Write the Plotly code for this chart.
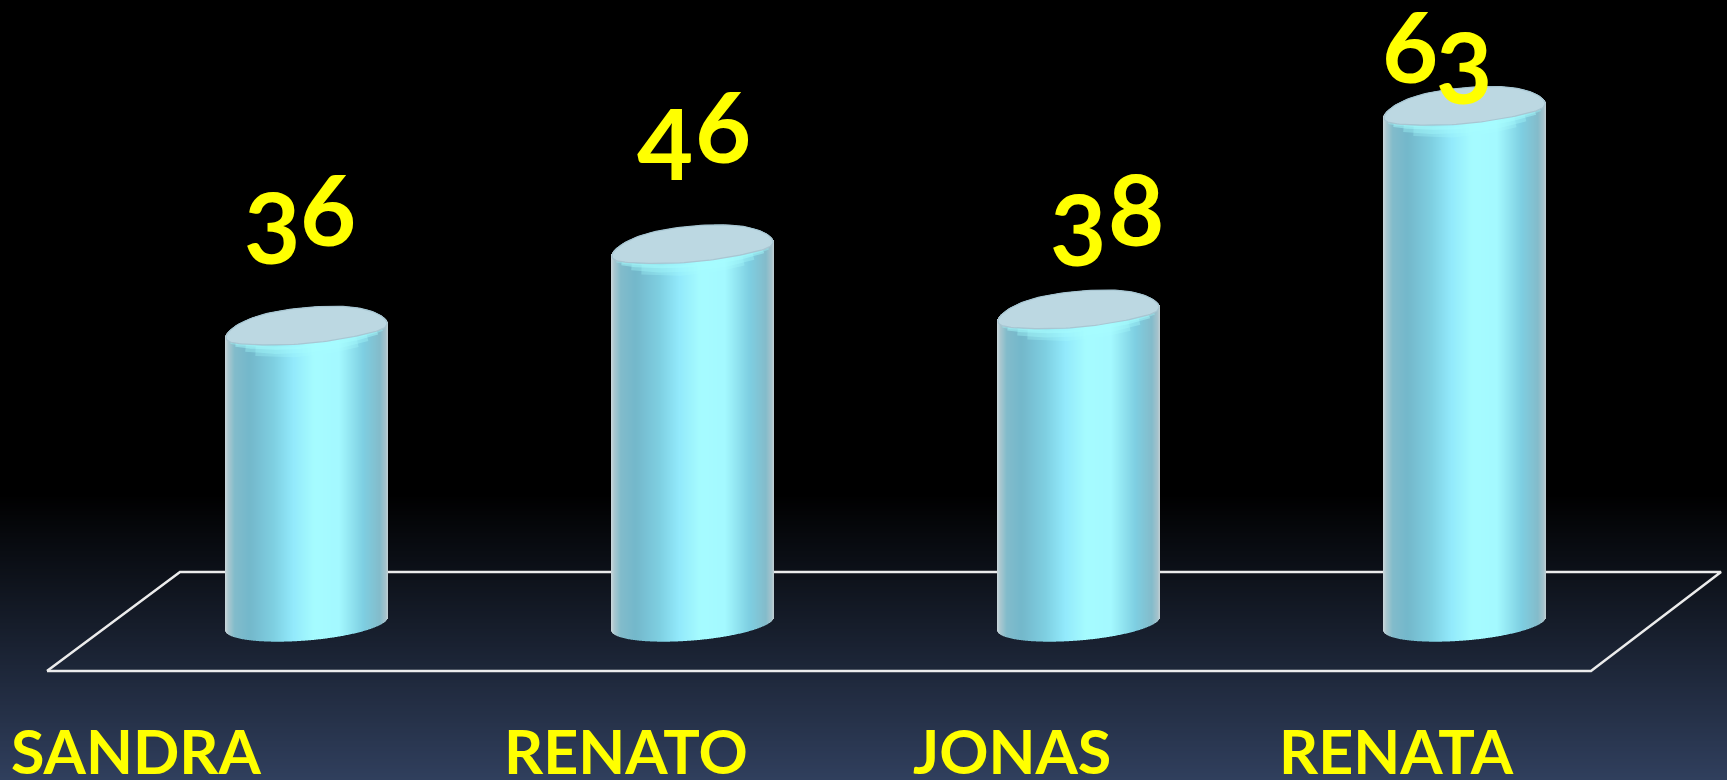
import numpy as np
import plotly.graph_objects as go

# ---- data ----
names = ["SANDRA", "RENATO", "JONAS", "RENATA"]
values = [36, 46, 38, 63]

# per-digit hand offsets of the tilted value labels (px, relative to the bar's top)
digit_dx = [[-34.5, 21.5], [-27.5, 30.5], [-0.5, 57.5], [-54.5, -0.5]]
digit_dy = [[104, 122], [107, 124], [86, 106], [65, 44]]
name_dx = [-170, -67, -67, -68.5]

# ---- picture scale ----
W, H = 1727, 780
PX_PER_UNIT = 8.14      # vertical pixels per value unit
BASE_PX = 623.5         # pixel row of value 0
FIRST_X = 306.5         # pixel column of first bar's axis
STEP_X = 386.0          # pixels between bars
HALF_W = 81.5           # bar half width in px

xr = [(0 - FIRST_X) / STEP_X, (W - FIRST_X) / STEP_X]
yr = [(BASE_PX - H) / PX_PER_UNIT, BASE_PX / PX_PER_UNIT]


def X(px):
    return float((px - FIRST_X) / STEP_X)


def Y(px):
    return (BASE_PX - np.asarray(px, float)) / PX_PER_UNIT


def d(px):
    return np.asarray(px, float) / PX_PER_UNIT


grad_pos = [0, .02, .06, .15, .3, .42, .55, .7, .85, .95, .985, 1]
grad_rgb = [(205, 216, 220), (170, 200, 208), (130, 188, 203), (116, 184, 203), (127, 208, 226), (147, 234, 252),
            (166, 252, 255), (164, 249, 255), (126, 207, 226), (132, 188, 203), (165, 195, 205), (195, 208, 212)]


def body_color(t):
    return "rgb(%d,%d,%d)" % tuple(np.interp(t, grad_pos, [c[k] for c in grad_rgb]) for k in range(3))


def cap_y(v, cu, cs):
    """value-space y of the cap rim: tilted, slightly squared ellipse"""
    return v + d(5) + d(7 * cu + 18 * cs - 5 * cu ** 4)


fig = go.Figure()

# background gradient
rows_px = np.arange(0, H + 2, 2)
z = np.clip((rows_px - 495) / (H - 495), 0, 1)
fig.add_trace(go.Heatmap(x=[xr[0], xr[1]], y=Y(rows_px), z=np.column_stack([z, z]),
                         colorscale=[[0, "#000000"], [1, "#303f5d"]], zmin=0, zmax=1,
                         showscale=False, hoverinfo="skip"))

# floor outline; the back edge stops at each cylinder, which stands in front of it
FLOOR_BACK, FLOOR_FRONT = 572, 671
fx = [X(47), X(180)]
fy = [float(Y(FLOOR_FRONT)), float(Y(FLOOR_BACK))]
for i in range(len(values)):
    fx += [i - HALF_W / STEP_X, None, i + HALF_W / STEP_X]
    fy += [float(Y(FLOOR_BACK)), None, float(Y(FLOOR_BACK))]
fx += [X(1721), X(1591), X(47)]
fy += [float(Y(FLOOR_BACK)), float(Y(FLOOR_FRONT)), float(Y(FLOOR_FRONT))]
fig.add_trace(go.Scatter(x=fx, y=fy, mode="lines", hoverinfo="skip", connectgaps=False,
                         line=dict(color="#ececec", width=2.5)))

# cylinder bodies as vertical one-pixel strips
n = 163
u = (np.arange(n) + .5) / n * 2 - 1
root = np.sqrt(1 - u ** 2)
sx, sbase, sh, sc = [], [], [], []
for i, v in enumerate(values):
    bottom = -d(-6.5 * u + 17 * root)           # value-space lower rim
    top = cap_y(v, u, root)                     # value-space upper rim
    sx += list(i + u * HALF_W / STEP_X)
    sbase += list(bottom)
    sh += list(top - bottom)
    sc += [body_color((a + 1) / 2) for a in u]
fig.add_trace(go.Bar(x=sx, y=sh, base=sbase, width=1 / STEP_X, opacity=1,
                     marker=dict(color=sc, opacity=1, line=dict(width=0)),
                     hoverinfo="skip"))

# caps
t = np.linspace(0, 2 * np.pi, 121)
cu, cs = np.cos(t), np.sin(t)
for i, v in enumerate(values):
    cx = i + cu * (HALF_W - 1) / STEP_X
    cy = cap_y(v, cu, cs)
    # highlight band under the cap's front edge, tapering towards the sides
    for trim, off, w, op in [(30, 8, 10, .28), (20, 6, 7, .34), (10, 3, 4, .45), (5, 1, 2.5, .35)]:
        lo = u[trim:-trim]
        lr = root[trim:-trim]
        fig.add_trace(go.Scatter(x=i + lo * HALF_W / STEP_X,
                                 y=cap_y(v, lo, -lr) - d(off * lr),
                                 mode="lines", hoverinfo="skip", opacity=op,
                                 line=dict(color="#a8feff", width=w)))
    fig.add_trace(go.Scatter(x=cx, y=cy, mode="lines", fill="toself", fillcolor="#bcd8e2",
                             hoverinfo="skip", line=dict(color="#a9c6d2", width=1.2)))

YEL = "#ffff00"
FONT = "Lato"
ann = []
for i, v in enumerate(values):
    for k, ch in enumerate(str(v)):
        ann.append(dict(x=i, y=v, xref="x", yref="y", text=ch, showarrow=False,
                        xanchor="center", yanchor="middle",
                        xshift=digit_dx[i][k], yshift=digit_dy[i][k],
                        font=dict(family=FONT, size=97, color=YEL, weight=700)))
    ann.append(dict(x=i, y=Y(750), xref="x", yref="y", text=names[i], showarrow=False,
                    xanchor="center", yanchor="middle", xshift=name_dx[i],
                    font=dict(family=FONT, size=61, color=YEL, weight=700)))

fig.update_layout(width=W, height=H, margin=dict(l=0, r=0, t=0, b=0), showlegend=False,
                  paper_bgcolor="#000000", plot_bgcolor="#000000", annotations=ann, barmode="overlay",
                  xaxis=dict(range=xr, visible=False, fixedrange=True),
                  yaxis=dict(range=yr, visible=False, fixedrange=True))

fig.write_html("out.html", config={"displayModeBar": False},
               post_script="document.body.style.margin='0';document.body.style.overflow='hidden';")
